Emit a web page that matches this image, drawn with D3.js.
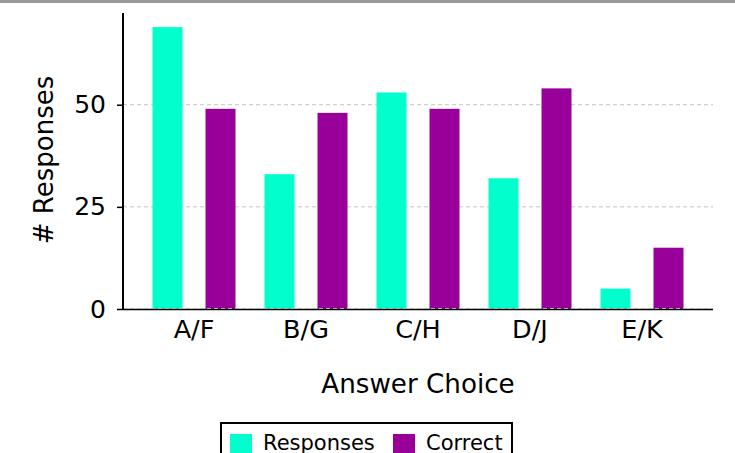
<!DOCTYPE html>
<html>
<head>
<meta charset="utf-8">
<script src="https://cdn.jsdelivr.net/npm/d3@7"></script>
<style>
  body { margin: 0; background: #fff; }
  svg { display: block; font-family: "DejaVu Sans", sans-serif; }
</style>
</head>
<body>
<div id="chart"></div>
<script>
// Chart data
var categories = ["A/F", "B/G", "C/H", "D/J", "E/K"];
var seriesNames = ["Responses", "Correct"];
var responses = [69, 33, 53, 32, 5];
var correct = [49, 48, 49, 54, 15];
var yTicks = [0, 25, 50];
var colors = ["#00ffcc", "#990099"];

var width = 735, height = 453;
var margin = { top: 13, right: 22, bottom: 144, left: 123 };

var svg = d3.select("#chart")
    .append("svg")
    .attr("width", width)
    .attr("height", height);

// gray strip along the top
svg.append("rect")
    .attr("x", 0).attr("y", 0)
    .attr("width", width).attr("height", 3)
    .attr("fill", "#999");

var data = categories.map((c, i) => ({ cat: c, values: [responses[i], correct[i]] }));

var x0 = d3.scaleBand()
    .domain(categories)
    .range([margin.left, width - margin.right])
    .paddingInner(0)
    .paddingOuter(0.134);

var x1 = d3.scaleBand()
    .domain(seriesNames)
    .range([14.5, 97.5])
    .paddingInner(23 / 53)
    .paddingOuter(0);

var y = d3.scaleLinear()
    .domain([0, d3.max(responses.concat(correct)) * 1.05])
    .range([height - margin.bottom, margin.top]);

// dashed grid
svg.append("g")
  .selectAll("line")
  .data(yTicks)
  .enter()
  .append("line")
    .attr("x1", margin.left)
    .attr("x2", width - margin.right)
    .attr("y1", d => y(d))
    .attr("y2", d => y(d))
    .attr("stroke", "#c4c4c4")
    .attr("stroke-width", 1)
    .attr("stroke-dasharray", "4,3");

// bars
var groups = svg.append("g")
  .selectAll("g")
  .data(data)
  .enter()
  .append("g")
    .attr("transform", d => "translate(" + x0(d.cat) + ",0)");

groups.selectAll("rect")
  .data(d => d.values.map((v, i) => ({ key: seriesNames[i], value: v, idx: i })))
  .enter()
  .append("rect")
    .attr("x", d => x1(d.key))
    .attr("width", x1.bandwidth())
    .attr("y", d => y(d.value))
    .attr("height", d => y(0) - y(d.value))
    .attr("fill", d => colors[d.idx]);

// x axis line
svg.append("line")
    .attr("x1", margin.left)
    .attr("x2", width - margin.right)
    .attr("y1", y(0) + 0.5)
    .attr("y2", y(0) + 0.5)
    .attr("stroke", "#000")
    .attr("stroke-width", 1.5);

svg.append("line")
    .attr("x1", margin.left)
    .attr("x2", width - margin.right)
    .attr("y1", y(0) - 0.5)
    .attr("y2", y(0) - 0.5)
    .attr("stroke", "#aaa")
    .attr("stroke-width", 1)
    .attr("stroke-dasharray", "4,3");

// y axis
var yAxis = svg.append("g")
    .attr("transform", "translate(" + margin.left + ",0)")
    .call(d3.axisLeft(y).tickValues(yTicks).tickSize(6).tickPadding(11));
yAxis.select(".domain").remove();
yAxis.selectAll(".tick line").attr("stroke", "#000").attr("stroke-width", 1.5);
yAxis.selectAll("text").attr("font-size", 25).attr("font-family", "DejaVu Sans").attr("fill", "#000");

svg.append("line")
    .attr("x1", margin.left)
    .attr("x2", margin.left)
    .attr("y1", margin.top)
    .attr("y2", y(0) + 1)
    .attr("stroke", "#000")
    .attr("stroke-width", 2);

// x tick labels
var xAxis = svg.append("g")
    .attr("transform", "translate(0," + y(0) + ")")
    .call(d3.axisBottom(x0).tickSize(0).tickPadding(11));
xAxis.select(".domain").remove();
xAxis.selectAll("text").attr("font-size", 25.5).attr("font-family", "DejaVu Sans").attr("fill", "#000");

// axis titles
svg.append("text")
    .attr("x", 418)
    .attr("y", 393)
    .attr("text-anchor", "middle")
    .attr("font-size", 26.2)
    .text("Answer Choice");

svg.append("text")
    .attr("transform", "translate(53,160) rotate(-90)")
    .attr("text-anchor", "middle")
    .attr("font-size", 26)
    .text("# Responses");

// legend
var legend = svg.append("g");
legend.append("rect")
    .attr("x", 221).attr("y", 423)
    .attr("width", 291).attr("height", 40)
    .attr("fill", "#fff")
    .attr("stroke", "#000")
    .attr("stroke-width", 2);

var legendX = [230, 393];
seriesNames.forEach((name, i) => {
  legend.append("rect")
      .attr("x", legendX[i]).attr("y", 434)
      .attr("width", 22).attr("height", 22)
      .attr("fill", colors[i]);
  legend.append("text")
      .attr("x", legendX[i] + 33)
      .attr("y", 450)
      .attr("font-size", 21)
      .text(name);
});
</script>
</body>
</html>
